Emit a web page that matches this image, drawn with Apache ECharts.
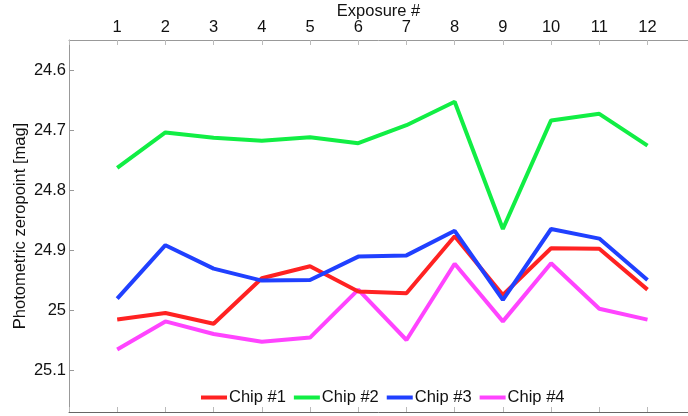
<!DOCTYPE html>
<html>
<head>
<meta charset="utf-8">
<script src="https://cdn.jsdelivr.net/npm/echarts@6/dist/echarts.min.js"></script>
<style>html,body{margin:0;padding:0;background:#fff}#c{width:688px;height:416px}</style>
</head>
<body>
<div id="c"></div>
<script>
var exposures = [1,2,3,4,5,6,7,8,9,10,11,12];
var chip1 = [25.016,25.005,25.023,24.947,24.927,24.969,24.972,24.877,24.975,24.897,24.898,24.966];
var chip2 = [24.763,24.704,24.713,24.718,24.712,24.722,24.692,24.653,24.865,24.684,24.673,24.726];
var chip3 = [24.981,24.892,24.931,24.951,24.950,24.911,24.909,24.868,24.983,24.865,24.881,24.950];
var chip4 = [25.066,25.019,25.040,25.053,25.046,24.966,25.050,24.923,25.019,24.922,24.998,25.016];
var yTicks = [24.6,24.7,24.8,24.9,25.0,25.1];
var names = ['Chip #1','Chip #2','Chip #3','Chip #4'];
var colors = ['#ff2222','#11ee44','#2040ff','#ff44ff'];
var seriesData = [chip1, chip2, chip3, chip4];

var font = '"Liberation Sans", Arial, Helvetica, sans-serif';
var fs = 16.5;
var chart = echarts.init(document.getElementById('c'), null, {renderer:'canvas'});
function pairs(arr){ return exposures.map(function(x,i){ return [x, arr[i]]; }); }
var xCommon = {
  type:'value', min:0, max:12.84, interval:1,
  splitLine:{show:false},
  axisLine:{show:true, lineStyle:{color:'#999', width:1}},
  axisTick:{show:true, inside:true, length:5, lineStyle:{color:'#bbb'}}
};
chart.setOption({
  animation:false,
  backgroundColor:'#fff',
  textStyle:{fontFamily:font},
  grid:{left:69, right:0, top:40, height:372, containLabel:false, outerBoundsMode:'none'},
  xAxis:[
    Object.assign({}, xCommon, {
      position:'top',
      name:'Exposure #', nameLocation:'middle', nameGap:20, nameMoveOverlap:false,
      nameTextStyle:{fontSize:fs, color:'#111', fontFamily:font},
      axisLabel:{show:true, margin:4, fontSize:fs, color:'#111', fontFamily:font,
        formatter:function(v){ return (v>=1 && v<=12) ? String(v) : ''; }}
    }),
    Object.assign({}, xCommon, {
      position:'bottom',
      axisLine:{show:true, lineStyle:{color:'#666', width:1}},
      axisLabel:{show:false}
    })
  ],
  yAxis:{
    type:'value', inverse:true, min:24.55, max:25.17,
    splitLine:{show:false},
    name:'Photometric zeropoint [mag]', nameLocation:'middle', nameGap:40, nameMoveOverlap:false,
    nameTextStyle:{fontSize:fs, color:'#111', fontFamily:font},
    axisLine:{show:true, lineStyle:{color:'#999', width:1}},
    axisTick:{show:true, inside:true, length:5, lineStyle:{color:'#999'}, customValues:yTicks},
    axisLabel:{show:true, margin:3, fontSize:fs, color:'#111', fontFamily:font, customValues:yTicks,
      formatter:function(v){ return String(Math.round(v*10)/10); }}
  },
  legend:{
    show:true, top:384, left:196,
    data:names,
    icon:'rect', itemWidth:26, itemHeight:4, itemGap:8,
    textStyle:{fontSize:fs, color:'#111', fontFamily:font, padding:[0,0,0,-3]}
  },
  series: seriesData.map(function(d,i){
    return {
      name:names[i], type:'line', data:pairs(d),
      showSymbol:false, symbol:'none',
      lineStyle:{color:colors[i], width:4},
      itemStyle:{color:colors[i]},
      z: 2 + (i===0?1: i===2?2:0)
    };
  })
});
</script>
</body>
</html>
